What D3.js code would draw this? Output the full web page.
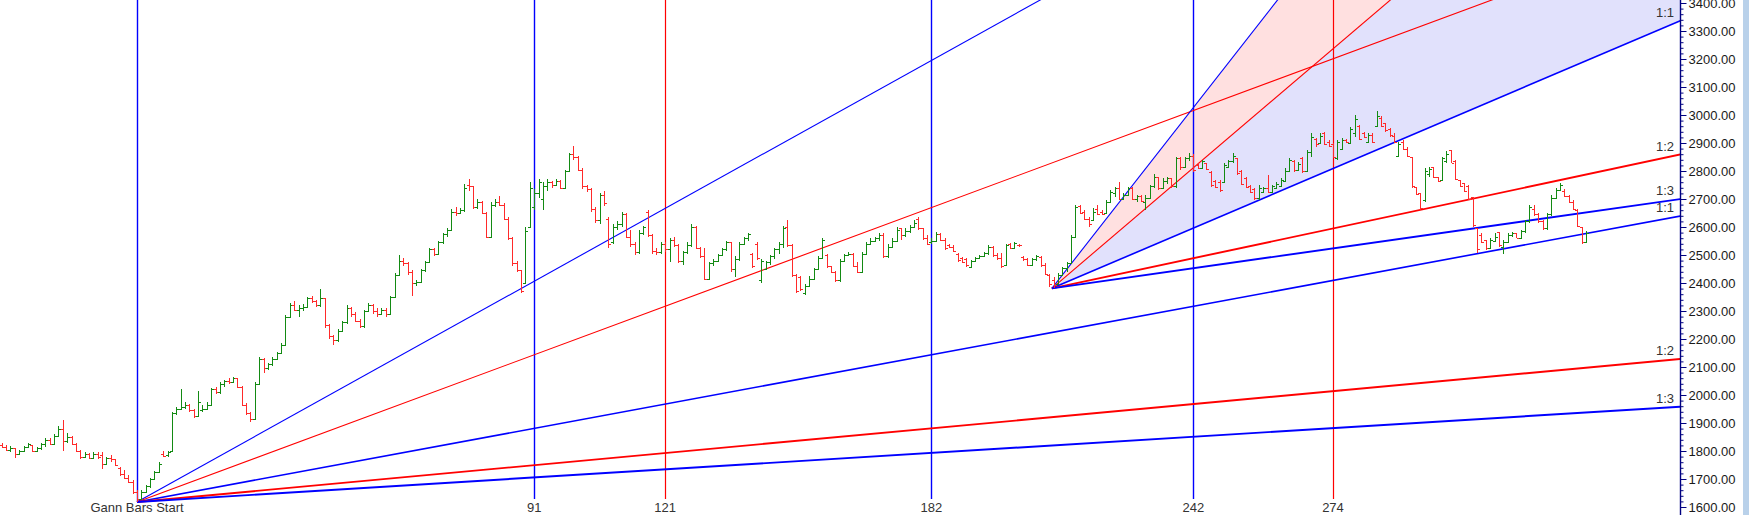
<!DOCTYPE html>
<html><head><meta charset="utf-8">
<script src="https://cdn.jsdelivr.net/npm/d3@7"></script>
<style>html,body{margin:0;padding:0;background:#fff;overflow:hidden}</style>
</head><body>
<svg id="chart" width="1749" height="515"></svg>
<script>
// ---------------- DATA ----------------
const firstBar = -31;   // bar offset (relative to "Gann Bars Start") of the first bar
const opens = [
1820,1815,1805,1810,1790,1800,1815,1820,1800,1810,
1825,1840,1825,1855,1880,1835,1850,1825,1800,1780,
1790,1775,1790,1785,1755,1775,1770,1740,1718,1705,
1690,1652,1630,1655,1675,1700,1725,1790,1785,1800,
1935,1950,1958,1965,1945,1925,1945,1950,1965,2020,
2010,2040,2050,2048,2060,2030,1965,1935,1915,2040,
2130,2095,2110,2130,2150,2180,2280,2320,2305,2310,
2315,2345,2335,2320,2345,2250,2210,2195,2230,2260,
2310,2290,2265,2245,2300,2320,2300,2290,2305,2290,
2350,2430,2480,2470,2440,2400,2405,2445,2475,2520,
2505,2545,2575,2590,2655,2650,2660,2750,2745,2670,
2690,2650,2565,2680,2690,2680,2630,2560,2470,2445,
2400,2600,2670,2720,2700,2745,2760,2750,2765,2740,
2800,2860,2850,2805,2745,2735,2665,2625,2715,2630,
2545,2600,2610,2645,2565,2540,2510,2580,2655,2570,
2515,2510,2540,2520,2555,2535,2478,2510,2535,2600,
2525,2495,2415,2470,2480,2500,2520,2545,2450,2485,
2540,2560,2505,2540,2410,2450,2475,2495,2520,2540,
2600,2535,2430,2420,2365,2390,2415,2450,2490,2500,
2460,2440,2410,2480,2500,2505,2462,2440,2505,2540,
2550,2560,2570,2495,2530,2550,2595,2570,2585,2600,
2630,2595,2560,2545,2550,2575,2555,2535,2530,2505,
2490,2485,2458,2480,2490,2497,2508,2530,2500,2490,
2465,2541,2525,2536,2494,2485,2465,2485,2494,2465,
2429,2410,2395,2430,2452,2470,2565,2675,2655,2630,
2625,2665,2655,2650,2690,2720,2740,2700,2715,2740,
2700,2710,2690,2705,2745,2780,2738,2765,2775,2745,
2845,2815,2845,2855,2822,2812,2827,2798,2765,2760,
2762,2815,2835,2845,2800,2775,2745,2735,2702,2725,
2740,2726,2740,2748,2765,2800,2835,2805,2845,2800,
2868,2915,2900,2935,2905,2895,2845,2880,2912,2900,
2935,2960,2935,2905,2930,2960,2990,2970,2950,2925,
2855,2905,2880,2851,2744,2720,2696,2790,2815,2780,
2768,2835,2875,2835,2768,2756,2745,2708,2595,2570,
2553,2524,2550,2583,2530,2548,2572,2578,2562,2585,
2620,2665,2645,2620,2595,2645,2705,2732,2730,2712,
2690,2660,2600,2545];
const highs = [
1828,1822,1818,1812,1805,1818,1828,1822,1815,1830,
1845,1845,1860,1890,1910,1865,1852,1830,1805,1795,
1792,1795,1795,1795,1780,1785,1772,1742,1732,1714,
1697,1660,1662,1680,1705,1730,1760,1800,1800,1940,
1958,2020,1975,1968,1950,2015,1965,1975,2025,2030,
2045,2055,2060,2065,2062,2032,1970,1940,2045,2135,
2132,2115,2135,2155,2185,2285,2330,2335,2320,2325,
2350,2355,2340,2380,2348,2255,2215,2235,2265,2320,
2315,2295,2270,2305,2330,2325,2310,2310,2310,2355,
2435,2500,2490,2475,2445,2410,2450,2480,2525,2525,
2550,2580,2595,2665,2670,2668,2755,2770,2748,2700,
2692,2655,2690,2700,2710,2685,2635,2565,2478,2448,
2600,2760,2735,2770,2760,2770,2765,2772,2768,2805,
2865,2890,2855,2810,2750,2740,2670,2720,2730,2635,
2610,2620,2655,2650,2590,2545,2590,2605,2660,2575,
2525,2545,2545,2560,2565,2540,2515,2545,2610,2605,
2530,2525,2475,2485,2505,2525,2550,2548,2495,2545,
2565,2580,2508,2545,2485,2480,2500,2525,2545,2605,
2625,2540,2432,2425,2395,2425,2455,2495,2560,2505,
2462,2442,2485,2502,2510,2508,2476,2512,2548,2560,
2565,2577,2577,2541,2560,2601,2598,2595,2607,2625,
2637,2598,2571,2559,2583,2578,2559,2540,2536,2508,
2494,2488,2482,2494,2500,2512,2536,2532,2506,2506,
2541,2543,2547,2540,2496,2488,2490,2500,2496,2470,
2432,2423,2435,2458,2476,2571,2679,2679,2661,2637,
2667,2679,2661,2696,2732,2744,2762,2720,2744,2744,
2714,2714,2714,2750,2790,2780,2774,2780,2776,2851,
2850,2851,2863,2860,2827,2839,2829,2800,2768,2768,
2827,2839,2863,2848,2804,2780,2750,2738,2750,2744,
2786,2750,2762,2774,2810,2845,2839,2833,2851,2875,
2934,2917,2934,2940,2911,2899,2911,2917,2915,2958,
3000,2964,2940,2934,2934,3015,2995,2970,2952,2934,
2905,2911,2887,2851,2744,2722,2810,2815,2815,2780,
2851,2870,2875,2839,2768,2756,2750,2708,2595,2577,
2555,2559,2577,2583,2553,2577,2583,2580,2590,2625,
2679,2679,2650,2625,2650,2714,2738,2756,2735,2715,
2696,2665,2600,2584];
const lows = [
1810,1800,1795,1775,1785,1795,1810,1795,1795,1805,
1815,1820,1820,1850,1800,1830,1820,1795,1770,1775,
1770,1770,1770,1735,1750,1760,1745,1712,1700,1684,
1648,1618,1628,1650,1668,1695,1720,1778,1780,1798,
1930,1945,1950,1940,1918,1920,1940,1945,1960,2005,
2005,2030,2040,2045,2025,1960,1930,1905,1912,2035,
2080,2090,2105,2125,2145,2175,2275,2300,2280,2300,
2310,2330,2315,2315,2240,2200,2180,2190,2225,2255,
2280,2260,2240,2240,2295,2290,2280,2285,2280,2285,
2345,2425,2460,2430,2355,2390,2400,2440,2470,2495,
2500,2540,2565,2585,2640,2645,2655,2730,2665,2665,
2645,2560,2560,2670,2675,2625,2555,2460,2440,2363,
2395,2600,2660,2705,2660,2730,2740,2745,2735,2735,
2795,2840,2800,2735,2725,2655,2615,2610,2675,2524,
2540,2590,2600,2560,2530,2500,2505,2570,2565,2505,
2500,2505,2510,2476,2530,2470,2465,2505,2530,2520,
2488,2410,2410,2460,2475,2495,2515,2440,2423,2480,
2535,2550,2452,2482,2399,2446,2465,2485,2505,2525,
2530,2423,2363,2372,2357,2385,2410,2445,2485,2455,
2435,2405,2405,2475,2495,2458,2434,2436,2500,2535,
2545,2550,2488,2490,2525,2545,2553,2565,2580,2595,
2589,2553,2536,2540,2548,2550,2518,2525,2512,2476,
2470,2458,2452,2478,2488,2494,2500,2494,2482,2452,
2460,2523,2523,2530,2480,2460,2462,2480,2458,2429,
2387,2381,2392,2425,2440,2468,2560,2645,2625,2601,
2620,2643,2643,2645,2688,2708,2696,2696,2712,2696,
2690,2690,2660,2700,2740,2732,2735,2755,2738,2740,
2804,2812,2835,2798,2808,2810,2804,2744,2738,2726,
2758,2810,2830,2786,2750,2738,2720,2696,2698,2720,
2720,2724,2738,2744,2762,2798,2798,2803,2792,2798,
2851,2887,2895,2893,2887,2845,2839,2875,2899,2895,
2923,2911,2917,2903,2899,2958,2958,2940,2923,2899,
2851,2875,2851,2738,2714,2661,2690,2780,2774,2762,
2765,2827,2827,2768,2744,2726,2696,2601,2506,2542,
2518,2520,2545,2530,2505,2545,2565,2560,2558,2580,
2615,2640,2614,2589,2590,2640,2700,2728,2708,2685,
2660,2600,2540,2543];
const closes = [
1815,1805,1812,1790,1800,1815,1825,1800,1810,1825,
1840,1825,1855,1880,1835,1850,1825,1800,1780,1790,
1775,1790,1780,1755,1775,1770,1750,1718,1705,1690,
1652,1630,1655,1675,1700,1725,1755,1782,1798,1935,
1950,1958,1965,1945,1925,1975,1950,1965,2020,2010,
2040,2050,2048,2060,2030,1965,1935,1915,2040,2130,
2095,2110,2130,2150,2180,2280,2320,2305,2310,2315,
2345,2335,2320,2345,2250,2210,2195,2230,2260,2310,
2290,2265,2245,2300,2320,2300,2290,2305,2290,2350,
2430,2480,2470,2440,2400,2405,2445,2475,2520,2505,
2545,2575,2590,2655,2650,2660,2740,2745,2670,2690,
2650,2565,2680,2690,2680,2630,2560,2470,2445,2370,
2585,2740,2720,2760,2745,2760,2750,2765,2740,2800,
2860,2850,2805,2745,2735,2665,2625,2715,2685,2540,
2600,2610,2645,2565,2540,2510,2580,2600,2570,2515,
2510,2540,2520,2555,2535,2478,2510,2535,2600,2525,
2495,2415,2470,2480,2500,2520,2545,2450,2485,2540,
2560,2575,2460,2490,2478,2475,2495,2520,2540,2598,
2535,2430,2370,2380,2390,2415,2450,2490,2555,2460,
2440,2410,2480,2500,2505,2462,2440,2505,2540,2550,
2560,2570,2495,2530,2550,2590,2570,2585,2600,2615,
2595,2560,2540,2550,2575,2555,2525,2530,2515,2482,
2475,2465,2478,2490,2497,2508,2530,2500,2490,2460,
2535,2525,2542,2535,2485,2465,2485,2495,2465,2432,
2395,2392,2430,2452,2470,2565,2672,2650,2630,2610,
2655,2648,2645,2690,2725,2738,2700,2715,2740,2700,
2710,2692,2705,2745,2780,2738,2765,2775,2745,2845,
2815,2845,2855,2805,2812,2835,2808,2750,2742,2732,
2820,2835,2855,2792,2755,2742,2725,2702,2740,2738,
2725,2745,2755,2768,2800,2838,2805,2825,2800,2868,
2920,2895,2925,2898,2890,2850,2905,2910,2902,2950,
2985,2915,2920,2930,2903,2995,2962,2945,2928,2902,
2898,2880,2855,2745,2718,2668,2800,2808,2778,2765,
2845,2860,2830,2772,2748,2730,2700,2606,2520,2548,
2524,2553,2565,2535,2548,2572,2578,2562,2585,2620,
2672,2645,2620,2595,2645,2705,2732,2750,2712,2690,
2665,2605,2548,2580];

// Gann time markers (bars counted from "Gann Bars Start")
const gannStartLabel = "Gann Bars Start";
const gannBars = [91, 121, 182, 242, 274];
// Gann fans: anchor bar, anchor price, price-per-bar of the 1x1 line
const fanNames   = ["fan1", "fan2"];
const fanBar     = [0, 209.6];
const fanPrice   = [1618, 2381];
const fanUnit    = [2.888, 6.64];
const fanRatios  = [3, 2, 1, 1/2, 1/3];
const fanLabels  = ["3:1", "2:1", "1:1", "1:2", "1:3"];
// price axis
const priceTicks = [1600,1700,1800,1900,2000,2100,2200,2300,2400,2500,2600,2700,2800,2900,3000,3100,3200,3300,3400];
const minorStep = 20;

// ---------------- STYLE / LAYOUT ----------------
const W = 1749, H = 515, axisX = 1680;
const BLUE = "#0000ff", RED = "#ff0000";
const gannColor = {91: BLUE, 121: RED, 182: BLUE, 242: BLUE, 274: RED};
const fanColor = [BLUE, RED, BLUE, RED, BLUE];
const fanWidth = [1.1, 1.1, 1.6, 1.9, 1.9];
const UP = "#138a13", DOWN = "#ff2a2a";
const FONT = "'Liberation Sans', Arial, sans-serif";

const svg = d3.select("#chart");
const x = d3.scaleLinear().domain([0, 274]).range([137, 1333]);
const y = d3.scaleLinear().domain([1600, 3400]).range([507, 3]);

svg.append("rect").attr("width", W).attr("height", H).attr("fill", "#fff");
svg.append("defs").append("clipPath").attr("id", "plot")
  .append("rect").attr("x", 0).attr("y", 0).attr("width", axisX).attr("height", H);

const plot = svg.append("g").attr("clip-path", "url(#plot)");
const kFar = 600;
const fanPt = (f, r, k) => [x(k), y(fanPrice[f] + r * fanUnit[f] * (k - fanBar[f]))];

// fills for fan 2
const f2 = 1;
const pinkPoly = [fanPt(f2, 3, fanBar[f2]), fanPt(f2, 3, kFar), fanPt(f2, 2, kFar)];
const lavPoly  = [fanPt(f2, 2, fanBar[f2]), fanPt(f2, 2, kFar), fanPt(f2, 1, kFar)];
plot.append("path").attr("d", "M" + pinkPoly.join("L") + "Z").attr("fill", "#ffe0e0");
plot.append("path").attr("d", "M" + lavPoly.join("L") + "Z").attr("fill", "#e1e1fc");

// vertical Gann time lines
plot.append("line").attr("x1", Math.round(x(0)) + 0.5).attr("x2", Math.round(x(0)) + 0.5)
  .attr("y1", 0).attr("y2", y(fanPrice[0])).attr("stroke", BLUE).attr("stroke-width", 1.4);
plot.selectAll("line.gann").data(gannBars).join("line").attr("class", "gann")
  .attr("x1", d => Math.round(x(d)) + 0.5).attr("x2", d => Math.round(x(d)) + 0.5)
  .attr("y1", 0).attr("y2", 499)
  .attr("stroke", d => gannColor[d]).attr("stroke-width", d => gannColor[d] === BLUE ? 1.4 : 1.2);

// fan lines
const line = d3.line();
fanNames.forEach((name, f) => {
  fanRatios.forEach((r, j) => {
    plot.append("path")
      .attr("d", line([fanPt(f, r, fanBar[f]), fanPt(f, r, kFar)]))
      .attr("fill", "none").attr("stroke", fanColor[j]).attr("stroke-width", fanWidth[j]);
  });
});

// OHLC bars
const bars = opens.map((o, i) => ({k: firstBar + i, o, h: highs[i], l: lows[i], c: closes[i]}));
const bg = plot.append("g").attr("shape-rendering", "crispEdges");
bars.forEach(b => {
  const cx = Math.round(x(b.k)) + 0.5;
  const col = b.c >= b.o ? UP : DOWN;
  const hi = Math.max(b.h, b.o, b.c), lo = Math.min(b.l, b.o, b.c);
  bg.append("line").attr("x1", cx).attr("x2", cx).attr("y1", y(hi)).attr("y2", y(lo))
    .attr("stroke", col).attr("stroke-width", 1.5);
  bg.append("line").attr("x1", cx - 2.5).attr("x2", cx).attr("y1", Math.round(y(b.o)) + 0.5).attr("y2", Math.round(y(b.o)) + 0.5)
    .attr("stroke", col).attr("stroke-width", 1.3);
  bg.append("line").attr("x1", cx).attr("x2", cx + 2.5).attr("y1", Math.round(y(b.c)) + 0.5).attr("y2", Math.round(y(b.c)) + 0.5)
    .attr("stroke", col).attr("stroke-width", 1.3);
});

// fan labels at the price axis (lines that reach the axis)
const kAxis = x.invert(axisX);
fanNames.forEach((name, f) => {
  fanRatios.forEach((r, j) => {
    if (r > 1) return;
    const yy = y(fanPrice[f] + r * fanUnit[f] * (kAxis - fanBar[f]));
    svg.append("text").attr("x", axisX - 6).attr("y", yy - 4)
      .attr("text-anchor", "end").attr("font-family", FONT).attr("font-size", 13)
      .attr("fill", "#333").text(fanLabels[j]);
  });
});

// bottom labels
svg.append("text").attr("x", x(0)).attr("y", 512).attr("text-anchor", "middle")
  .attr("font-family", FONT).attr("font-size", 13).attr("fill", "#333").text(gannStartLabel);
svg.selectAll("text.gl").data(gannBars).join("text").attr("class", "gl")
  .attr("x", d => x(d)).attr("y", 512).attr("text-anchor", "middle")
  .attr("font-family", FONT).attr("font-size", 13).attr("fill", "#333").text(d => d);

// price axis
const minorTicks = d3.range(priceTicks[0], priceTicks[priceTicks.length - 1] + 1, minorStep)
  .filter(v => !priceTicks.includes(v));
const ax = svg.append("g").attr("transform", `translate(${axisX + 0.5},0)`);
ax.call(d3.axisRight(y).tickValues(minorTicks).tickSize(3).tickFormat(""));
ax.call(g => g.selectAll(".tick line").attr("stroke", "#000080"));
const ax2 = svg.append("g").attr("transform", `translate(${axisX + 0.5},0)`);
ax2.call(d3.axisRight(y).tickValues(priceTicks).tickSize(6).tickPadding(2).tickFormat(d3.format(".2f")));
ax2.selectAll("text").attr("font-family", FONT).attr("font-size", 13).attr("fill", "#1a1a1a");
ax2.selectAll(".tick line").attr("stroke", "#000080");
[ax, ax2].forEach(g => g.select(".domain").remove());
svg.append("line").attr("x1", axisX + 0.5).attr("x2", axisX + 0.5).attr("y1", 0).attr("y2", H)
  .attr("stroke", "#000080").attr("stroke-width", 1.4);
svg.append("rect").attr("x", 1743).attr("y", 0).attr("width", 6).attr("height", H).attr("fill", "#b9d1ea");
</script>
</body></html>
